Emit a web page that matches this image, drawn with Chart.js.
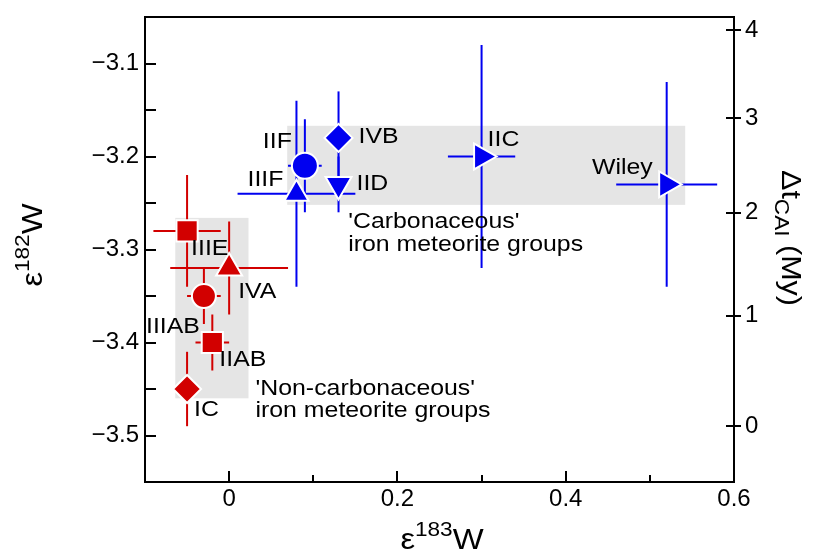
<!DOCTYPE html>
<html>
<head>
<meta charset="utf-8">
<script src="https://cdn.jsdelivr.net/npm/chart.js@4.4.1/dist/chart.umd.min.js"></script>
<style>
  html, body { margin: 0; padding: 0; background: #fff; }
</style>
</head>
<body>
<canvas id="chart" width="827" height="553"></canvas>
<script>
// 'Non-carbonaceous' groups (red)
const ncNames = ["IIIE", "IVA", "IIIAB", "IIAB", "IC"];
const ncX = [-0.05, 0.0, -0.03, -0.02, -0.05];
const ncY = [-3.28, -3.32, -3.35, -3.40, -3.45];
const ncErrX = [0.04, 0.07, 0.02, 0.02, 0];
const ncErrY = [0.06, 0.05, 0.03, 0.03, 0.04];

// 'Carbonaceous' groups (blue)
const cNames = ["IIF", "IIIF", "IVB", "IID", "IIC", "Wiley"];
const cX = [0.09, 0.08, 0.13, 0.13, 0.30, 0.52];
const cY = [-3.21, -3.24, -3.18, -3.23, -3.20, -3.23];
const cErrX = [0.02, 0.07, 0, 0, 0.04, 0.06];
const cErrY = [0.05, 0.10, 0.05, 0.03, 0.12, 0.11];

// shaded group fields [x0, x1, y0, y1]
const ncField = [-0.064, 0.023, -3.46, -3.266];
const cField = [0.069, 0.542, -3.252, -3.167];

// axes
const xTicks = [0, 0.2, 0.4, 0.6];
const xMinorTicks = [0.1, 0.3, 0.5];
const yTicks = [-3.5, -3.4, -3.3, -3.2, -3.1];
const yMinorTicks = [-3.45, -3.35, -3.25, -3.15];
const ageTickLabels = ["0", "1", "2", "3", "4"];
const ageTickPos = [-3.49, -3.371, -3.2605, -3.1585, -3.064];

const FONT = '"Liberation Sans", Arial, Helvetica, sans-serif';
const RED = "#d20000";
const BLUE = "#0000f0";
const STRETCH = 1.13; // the figure's lettering is a bit wide

// marker shape, rotation, radius and label placement (dx, dy, align)
const look = {
  IIIE:  { shape: "rect", rot: 0, r: 15, dx: 4, dy: 18, align: "left" },
  IVA:   { shape: "triangle", rot: 0, r: 15, dx: 9, dy: 24, align: "left" },
  IIIAB: { shape: "circle", rot: 0, r: 12, dx: -4, dy: 31, align: "right" },
  IIAB:  { shape: "rect", rot: 0, r: 15, dx: 7, dy: 17, align: "left" },
  IC:    { shape: "rectRot", rot: 0, r: 14, dx: 7, dy: 21, align: "left" },
  IIF:   { shape: "circle", rot: 0, r: 13, dx: -13, dy: -24, align: "right" },
  IIIF:  { shape: "triangle", rot: 0, r: 14, dx: -13, dy: -14, align: "right" },
  IVB:   { shape: "rectRot", rot: 0, r: 14, dx: 20, dy: -1, align: "left" },
  IID:   { shape: "triangle", rot: 180, r: 15, dx: 18, dy: 0, align: "left" },
  IIC:   { shape: "triangle", rot: 90, r: 15, dx: 6, dy: -17, align: "left" },
  Wiley: { shape: "triangle", rot: 90, r: 15, dx: -14, dy: -16, align: "right" }
};

function makeSet(names, xs, ys, ex, ey, color) {
  return {
    data: names.map((n, i) => ({ x: xs[i], y: ys[i], ex: ex[i], ey: ey[i], name: n })),
    backgroundColor: color,
    borderColor: "#fff",
    pointBorderWidth: 2,
    pointStyle: names.map(n => look[n].shape),
    rotation: names.map(n => look[n].rot),
    pointRadius: names.map(n => look[n].r),
    errColor: color
  };
}

function wideText(ctx, text, x, y) {
  ctx.save();
  ctx.translate(x, y);
  ctx.scale(STRETCH, 1);
  ctx.fillText(text, 0, 0);
  ctx.restore();
}

const fieldsAndErrors = {
  id: "fieldsAndErrors",
  beforeDatasetsDraw(chart) {
    const { ctx, scales: { x, y } } = chart;
    ctx.save();
    ctx.fillStyle = "#e5e5e5";
    [ncField, cField].forEach(f => {
      const px0 = x.getPixelForValue(f[0]), px1 = x.getPixelForValue(f[1]);
      const py0 = y.getPixelForValue(f[2]), py1 = y.getPixelForValue(f[3]);
      ctx.fillRect(px0, py1, px1 - px0, py0 - py1);
    });
    ctx.lineWidth = 2;
    chart.data.datasets.forEach(ds => {
      ctx.strokeStyle = ds.errColor;
      ds.data.forEach(p => {
        const px = x.getPixelForValue(p.x), py = y.getPixelForValue(p.y);
        ctx.beginPath();
        if (p.ey) {
          ctx.moveTo(px, y.getPixelForValue(p.y - p.ey));
          ctx.lineTo(px, y.getPixelForValue(p.y + p.ey));
        }
        if (p.ex) {
          ctx.moveTo(x.getPixelForValue(p.x - p.ex), py);
          ctx.lineTo(x.getPixelForValue(p.x + p.ex), py);
        }
        ctx.stroke();
      });
    });
    ctx.restore();
  },
  afterDatasetsDraw(chart) {
    const { ctx, scales: { x, y } } = chart;
    ctx.save();
    ctx.fillStyle = "#000";
    ctx.textBaseline = "middle";
    ctx.font = "22px " + FONT;
    chart.data.datasets.forEach(ds => {
      ds.data.forEach(p => {
        const l = look[p.name];
        ctx.textAlign = l.align;
        wideText(ctx, p.name, x.getPixelForValue(p.x) + l.dx, y.getPixelForValue(p.y) + l.dy);
      });
    });
    ctx.textAlign = "left";
    const cx = x.getPixelForValue(cField[0]) + 61, cy = y.getPixelForValue(cField[2]);
    wideText(ctx, "'Carbonaceous'", cx, cy + 17);
    wideText(ctx, "iron meteorite groups", cx, cy + 40);
    const nx = x.getPixelForValue(ncField[1]) + 7, ny = y.getPixelForValue(ncField[2]);
    wideText(ctx, "'Non-carbonaceous'", nx, ny - 9);
    wideText(ctx, "iron meteorite groups", nx, ny + 13);
    ctx.restore();
  },
  afterDraw(chart) {
    const { ctx, chartArea: a, scales: { x, y, y2 } } = chart;
    ctx.save();
    ctx.strokeStyle = "#000";
    ctx.lineWidth = 2;
    ctx.strokeRect(a.left, a.top, a.right - a.left, a.bottom - a.top);
    ctx.beginPath();
    yTicks.concat(yMinorTicks).forEach(v => {
      const py = Math.round(y.getPixelForValue(v));
      ctx.moveTo(a.left, py); ctx.lineTo(a.left + 11, py);
    });
    xTicks.forEach(v => {
      const px = Math.round(x.getPixelForValue(v));
      ctx.moveTo(px, a.bottom); ctx.lineTo(px, a.bottom - 11);
    });
    xMinorTicks.forEach(v => {
      const px = Math.round(x.getPixelForValue(v));
      ctx.moveTo(px, a.bottom); ctx.lineTo(px, a.bottom - 7);
    });
    ageTickPos.forEach(v => {
      const py = Math.round(y2.getPixelForValue(v));
      ctx.moveTo(a.right - 8, py); ctx.lineTo(a.right + 7, py);
    });
    ctx.stroke();

    // axis titles with super/subscripts
    ctx.fillStyle = "#000";
    ctx.textBaseline = "alphabetic";
    ctx.textAlign = "left";
    const big = "29px " + FONT, small = "20px " + FONT;
    function runs(parts) {
      let w = 0;
      parts.forEach(p => { ctx.font = p[1]; p.w = ctx.measureText(p[0]).width; w += p.w; });
      return w;
    }
    function drawRuns(parts, w) {
      ctx.scale(STRETCH, 1);
      let cx = -w / 2;
      parts.forEach(p => { ctx.font = p[1]; ctx.fillText(p[0], cx, p[2]); cx += p.w; });
    }
    const xt = [["\u03b5", big, 0], ["183", small, -13], ["W", big, 0]];
    ctx.save();
    ctx.translate(442, 549);
    drawRuns(xt, runs(xt));
    ctx.restore();

    const yt = [["\u03b5", big, 0], ["182", small, -13], ["W", big, 0]];
    ctx.save();
    ctx.translate(42, 245);
    ctx.rotate(-Math.PI / 2);
    drawRuns(yt, runs(yt));
    ctx.restore();

    const rt = [["\u0394t", "27px " + FONT, 0], ["CAI", "20px " + FONT, 7], [" (My)", "27px " + FONT, 0]];
    ctx.save();
    ctx.translate(782, 238);
    ctx.rotate(Math.PI / 2);
    drawRuns(rt, runs(rt));
    ctx.restore();
    ctx.restore();
  }
};

const tickFont = { family: FONT, size: 24 };

new Chart(document.getElementById("chart"), {
  type: "scatter",
  data: {
    datasets: [
      makeSet(ncNames, ncX, ncY, ncErrX, ncErrY, RED),
      makeSet(cNames, cX, cY, cErrX, cErrY, BLUE)
    ]
  },
  options: {
    responsive: false,
    animation: false,
    layout: { padding: { top: 7, left: 0, right: 0, bottom: 0 } },
    plugins: { legend: { display: false }, tooltip: { enabled: false } },
    scales: {
      x: {
        type: "linear", min: -0.1, max: 0.6,
        grid: { display: false, drawTicks: false }, border: { display: false },
        ticks: { font: tickFont, color: "#000", padding: 3, maxRotation: 0, autoSkip: false,
                 callback: v => v === 0 ? "0" : v.toFixed(1) },
        afterBuildTicks: s => { s.ticks = xTicks.map(v => ({ value: v })); },
        afterFit: s => { s.height = 71; s.paddingLeft = 0; s.paddingRight = 0; }
      },
      y: {
        type: "linear", position: "left", min: -3.55, max: -3.05,
        grid: { display: false, drawTicks: false }, border: { display: false },
        ticks: { font: tickFont, color: "#000", padding: 6, autoSkip: false,
                 callback: v => "\u2212" + Math.abs(v).toFixed(1) },
        afterBuildTicks: s => { s.ticks = yTicks.map(v => ({ value: v })); },
        afterFit: s => { s.width = 145; s.paddingTop = 0; s.paddingBottom = 0; }
      },
      y2: {
        type: "linear", position: "right", min: -3.55, max: -3.05,
        grid: { display: false, drawTicks: false }, border: { display: false },
        ticks: { font: tickFont, color: "#000", padding: 11, autoSkip: false,
                 callback: (v, i) => ageTickLabels[i] },
        afterBuildTicks: s => { s.ticks = ageTickPos.map(v => ({ value: v })); },
        afterFit: s => { s.width = 93; s.paddingTop = 0; s.paddingBottom = 0; }
      }
    }
  },
  plugins: [fieldsAndErrors]
});
</script>
</body>
</html>
